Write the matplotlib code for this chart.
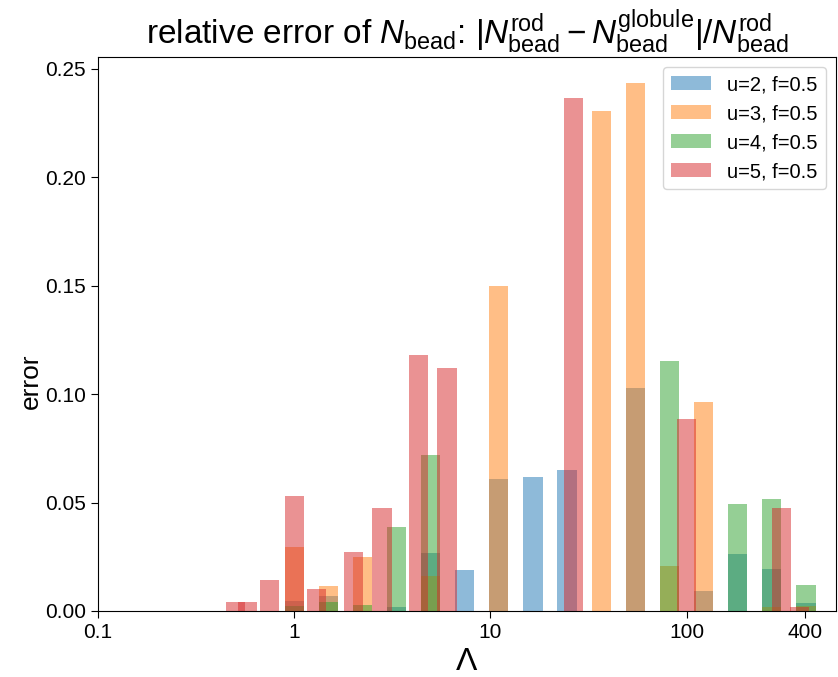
import numpy as np
import matplotlib
matplotlib.use("Agg")
import matplotlib.pyplot as plt
from matplotlib.ticker import FixedLocator, FixedFormatter, NullLocator

plt.rcParams['font.family'] = ['Liberation Sans', 'DejaVu Sans']
plt.rcParams['mathtext.fontset'] = 'custom'
plt.rcParams['mathtext.rm'] = 'Liberation Sans'
plt.rcParams['mathtext.it'] = 'Liberation Sans:italic'
plt.rcParams['mathtext.bf'] = 'Liberation Sans:bold'

# ---- data (Lambda, relative error) ----
lam_u2 = [1.0, 1.5, 3.32, 4.95, 7.4, 11.0, 16.5, 24.6, 55.0, 122.0, 182.0, 272.0, 406.0]
err_u2 = [0.0048, 0.0071, 0.0020, 0.0268, 0.0190, 0.0610, 0.0620, 0.0650, 0.1030, 0.0092, 0.0263, 0.0194, 0.0038]

lam_u3 = [1.0, 1.5, 2.22, 4.95, 11.0, 36.7, 55.0, 82.0, 122.0, 272.0, 406.0]
err_u3 = [0.0295, 0.0115, 0.0251, 0.0161, 0.1500, 0.2305, 0.2433, 0.0208, 0.0964, 0.0020, 0.0023]

lam_u4 = [1.0, 1.5, 2.22, 3.32, 4.95, 82.0, 182.0, 272.0, 406.0]
err_u4 = [0.0023, 0.0043, 0.0028, 0.0389, 0.0720, 0.1152, 0.0492, 0.0517, 0.0118]

lam_u5 = [0.5, 0.577, 0.75, 1.0, 1.3, 2.0, 2.8, 4.3, 6.0, 26.6, 100.0, 304.0, 376.0]
err_u5 = [0.0040, 0.0040, 0.0143, 0.0532, 0.0103, 0.0274, 0.0475, 0.1180, 0.1120, 0.2365, 0.0885, 0.0475, 0.0018]

series = [
    (lam_u2, err_u2, "u=2, f=0.5", "tab:blue"),
    (lam_u3, err_u3, "u=3, f=0.5", "tab:orange"),
    (lam_u4, err_u4, "u=4, f=0.5", "tab:green"),
    (lam_u5, err_u5, "u=5, f=0.5", "tab:red"),
]

x_ticks = [0.1, 1, 10, 100, 400]
x_ticklabels = ["0.1", "1", "10", "100", "400"]

# bar width constant in log space (decades)
WDEC = 0.0985

fig = plt.figure(figsize=(8.38, 6.77), dpi=100)
ax = fig.add_axes([0.117, 0.0975, 0.8805, 0.8183])

for lam, err, label, color in series:
    lam = np.asarray(lam)
    left = lam * 10 ** (-WDEC / 2)
    right = lam * 10 ** (WDEC / 2)
    ax.bar(left, err, width=right - left, align='edge', color=color,
           alpha=0.5, linewidth=0, label=label)

ax.set_xscale('log')
ax.set_xlim(0.1, 577)
ax.xaxis.set_major_locator(FixedLocator(x_ticks))
ax.xaxis.set_major_formatter(FixedFormatter(x_ticklabels))
ax.xaxis.set_minor_locator(NullLocator())

ax.tick_params(labelsize=15, length=5)
ax.set_xlabel(r"$\Lambda$", fontsize=23, labelpad=4)
ax.set_ylabel("error", fontsize=19)
ax.yaxis.set_label_coords(-0.075, 0.415)
ax.set_title(r"relative error of $N_{\rm bead}$: $|N_{\rm bead}^{\rm rod} - N_{\rm bead}^{\rm globule}|/N_{\rm bead}^{\rm rod}$",
             fontsize=24, pad=4)
ax.legend(loc='upper right', fontsize=14.5)

fig.savefig("out.png", dpi=100)
